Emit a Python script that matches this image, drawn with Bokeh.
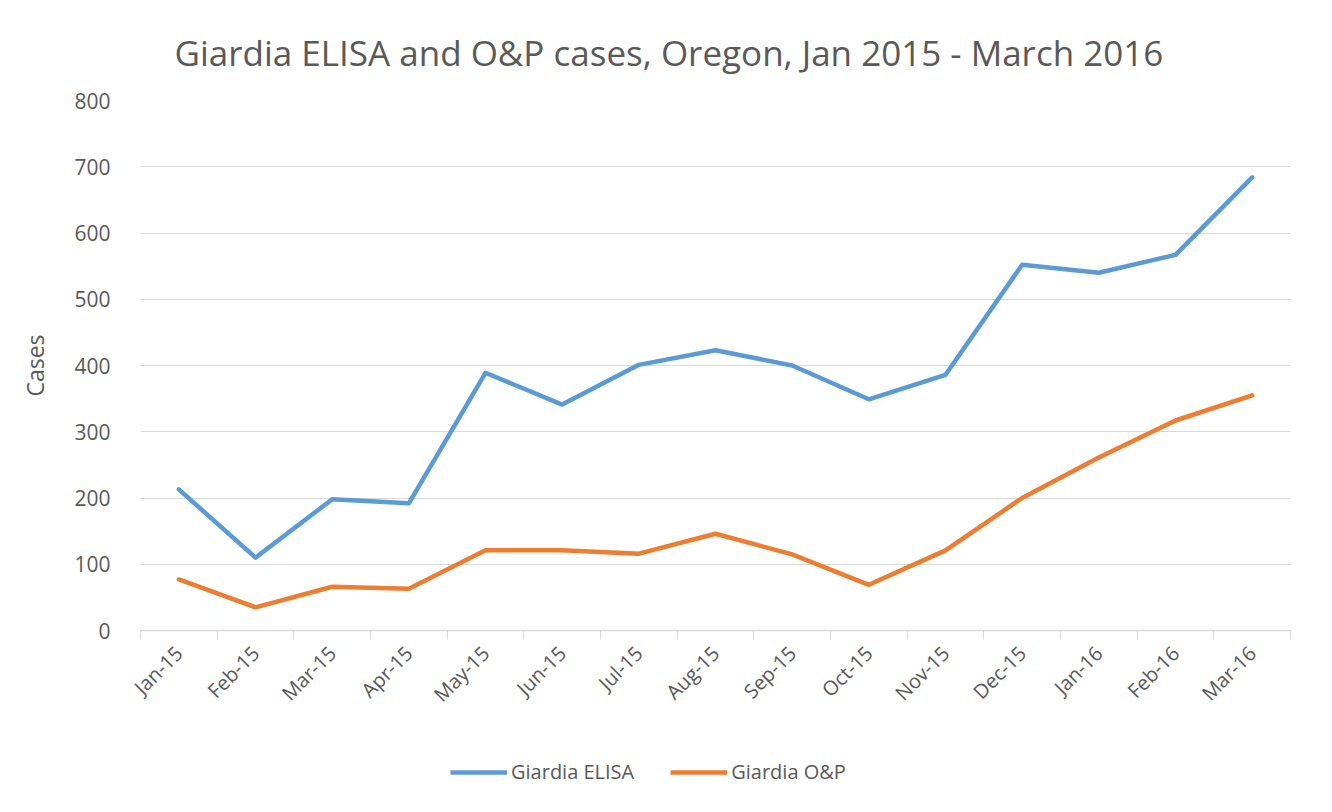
import numpy as np
from bokeh.plotting import figure
from bokeh.layouts import column
from bokeh.models import Range1d, FixedTicker, Legend, LegendItem
from bokeh.embed import file_html
from bokeh.resources import INLINE

months = ["Jan-15", "Feb-15", "Mar-15", "Apr-15", "May-15", "Jun-15", "Jul-15",
          "Aug-15", "Sep-15", "Oct-15", "Nov-15", "Dec-15", "Jan-16", "Feb-16", "Mar-16"]
elisa = [213, 110, 198, 192, 389, 341, 401, 423, 400, 349, 386, 552, 540, 567, 684]
onp = [77, 35, 66, 63, 121, 121, 116, 146, 115, 69, 121, 200, 261, 317, 355]
y_ticks = [0, 100, 200, 300, 400, 500, 600, 700, 800]
series_names = ["Giardia ELISA", "Giardia O&P"]
series_colors = ["#5B9BD5", "#ED7D31"]

FONT = "Open Sans"
GRAY = "#595959"

n = len(months)
xc = list(np.arange(n) + 0.5)

p = figure(frame_width=1150, frame_height=530, output_backend="svg", toolbar_location=None,
           x_range=Range1d(0, n), y_range=Range1d(0, 800),
           min_border_left=140, min_border_right=26, min_border_top=100, min_border_bottom=112)

p.title.text = "Giardia ELISA and O&P cases, Oregon, Jan 2015 - March 2016"
p.title.align = "left"
p.title.offset = 34
p.title.text_font = FONT
p.title.text_font_size = "35px"
p.title.text_font_style = "normal"
p.title.text_color = GRAY
p.title.standoff = 50

p.outline_line_color = None
p.background_fill_color = "white"
p.border_fill_color = "white"

# y axis
p.yaxis.ticker = FixedTicker(ticks=y_ticks)
p.yaxis.axis_line_color = None
p.yaxis.major_tick_line_color = None
p.yaxis.minor_tick_line_color = None
p.yaxis.major_label_text_font = FONT
p.yaxis.major_label_text_font_size = "21px"
p.yaxis.major_label_text_color = GRAY
p.yaxis.major_label_standoff = 24
p.yaxis.axis_label = "Cases"
p.yaxis.axis_label_text_font = FONT
p.yaxis.axis_label_text_font_size = "23px"
p.yaxis.axis_label_text_font_style = "normal"
p.yaxis.axis_label_text_color = GRAY
p.yaxis.axis_label_standoff = 20

# x axis: labels at centers, tick marks at category boundaries
p.xaxis.ticker = FixedTicker(ticks=xc, minor_ticks=list(range(n + 1)))
p.xaxis.major_label_overrides = {float(x): m for x, m in zip(xc, months)}
p.xaxis.major_tick_line_color = None
p.xaxis.minor_tick_line_color = "#d9d9d9"
p.xaxis.minor_tick_out = 9
p.xaxis.minor_tick_in = 0
p.xaxis.axis_line_color = "#d9d9d9"
p.xaxis.axis_line_width = 1.5
p.xaxis.major_label_orientation = np.pi / 4
p.xaxis.major_label_text_font = FONT
p.xaxis.major_label_text_font_size = "20px"
p.xaxis.major_label_text_color = GRAY
p.xaxis.major_label_standoff = 10

p.xgrid.grid_line_color = None
p.ygrid.grid_line_color = "#d9d9d9"
p.ygrid.grid_line_width = 1.2

for vals, col in zip([elisa, onp], series_colors):
    p.line(xc, vals, line_color=col, line_width=4.5, line_join="round", line_cap="round")

# legend strip below the chart (its frame is aligned with the chart frame)
lg = figure(width=1316, height=54, output_backend="svg", toolbar_location=None,
            x_range=Range1d(-2, -1), y_range=Range1d(-2, -1),
            x_axis_type=None, y_axis_type=None, min_border=0)
lg.outline_line_color = None
lg.xgrid.visible = False
lg.ygrid.visible = False
items = []
for name, vals, col in zip(series_names, [elisa, onp], series_colors):
    r = lg.line(xc, vals, line_color=col, line_width=4.5)
    items.append(LegendItem(label=name, renderers=[r]))
legend = Legend(items=items, orientation="horizontal", location=(310, 11),
                label_text_font=FONT, label_text_font_size="20px", label_text_color=GRAY,
                glyph_width=57, glyph_height=20, spacing=36, label_standoff=4,
                border_line_color=None, background_fill_alpha=0, margin=0, padding=0)
lg.add_layout(legend, "center")

layout = column(p, lg, spacing=0)
open("out.html", "w").write(file_html(layout, INLINE))
